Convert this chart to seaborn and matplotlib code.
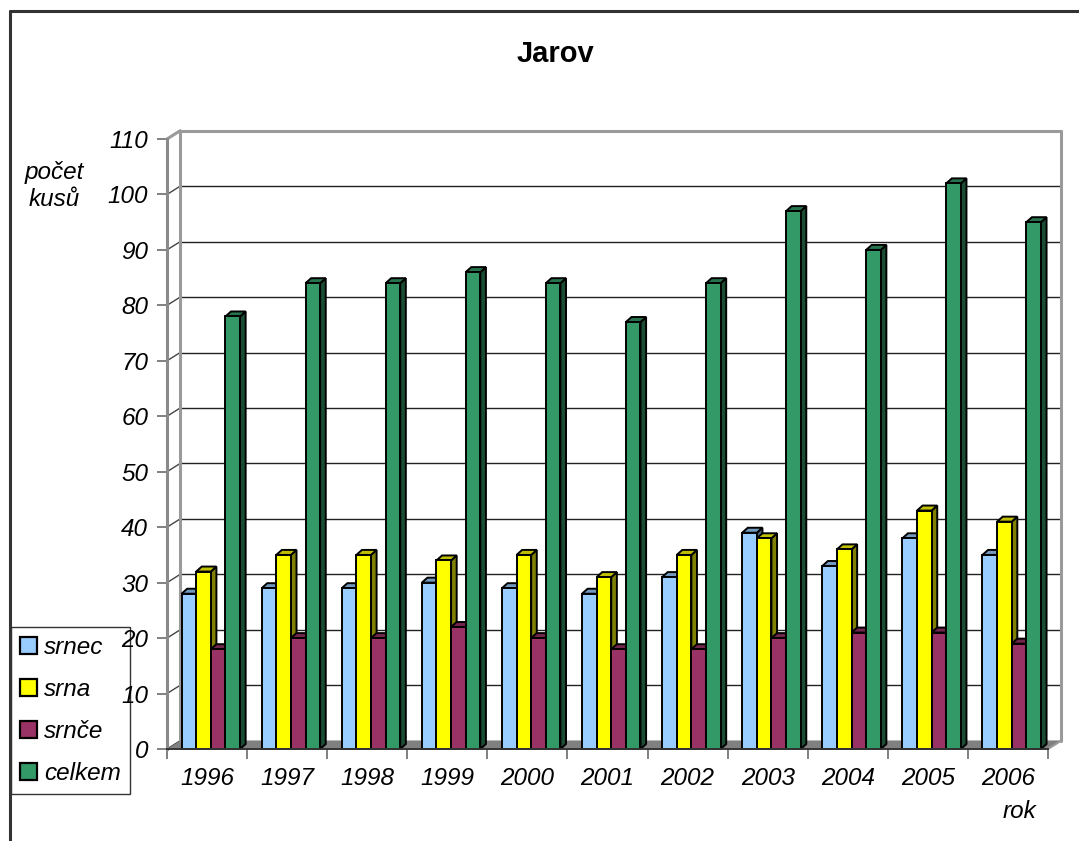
import numpy as np
import pandas as pd
import matplotlib
matplotlib.use("Agg")
import matplotlib.pyplot as plt
import matplotlib.patches as mpatches
from matplotlib.lines import Line2D
from matplotlib.colors import to_rgb
import seaborn as sns

# --- data -------------------------------------------------------------
roky = ["1996", "1997", "1998", "1999", "2000", "2001",
        "2002", "2003", "2004", "2005", "2006"]
srnec = [28, 29, 29, 30, 29, 28, 31, 39, 33, 38, 35]
srna = [32, 35, 35, 34, 35, 31, 35, 38, 36, 43, 41]
srnce = [18, 20, 20, 22, 20, 18, 18, 20, 21, 21, 19]
celkem = [78, 84, 84, 86, 84, 77, 84, 97, 90, 102, 95]
druhy = ["srnec", "srna", "srnče", "celkem"]
barvy = ["#99CCFF", "#FFFF00", "#993366", "#339966"]
y_ticks = list(range(0, 111, 10))

sns.set_theme(style="white")
plt.rcParams["font.family"] = ["Liberation Sans", "DejaVu Sans"]

wide = pd.DataFrame({"rok": roky, "srnec": srnec, "srna": srna,
                     "srnče": srnce, "celkem": celkem})
df = wide.melt(id_vars="rok", var_name="druh", value_name="pocet")

FS = 17.5  # size of the italic labels

W, H = 1079, 841
fig = plt.figure(figsize=(W / 100, H / 100), dpi=100)
fig.patch.set_facecolor("white")
ax = fig.add_axes([167 / W, (H - 749) / H, 881 / W, 610 / H])
ax.set_facecolor("none")

sns.barplot(data=df, x="rok", y="pocet", hue="druh", hue_order=druhy,
            order=roky, palette=barvy, saturation=1, width=0.73,
            edgecolor="black", linewidth=1.4, legend=False, ax=ax)

# geometry of the pseudo-3D look (data units)
shift = 0.047           # bars sit slightly right of the category centre
x0, x1 = -0.5 - shift, len(roky) - 0.5 - shift
dx, dy = 0.165, 1.5     # depth of the back wall
bdx, bdy = 0.07, 0.9    # depth of each bar
ax.set_xlim(x0, x1)
ax.set_ylim(0, 110)

EDGE = "black"
bars = list(ax.patches)
for p in bars:
    x, w, h = p.get_x(), p.get_width(), p.get_height()
    fc = np.array(to_rgb(p.get_facecolor()))
    side = mpatches.Polygon([(x + w, 0), (x + w + bdx, bdy),
                             (x + w + bdx, h + bdy), (x + w, h)],
                            closed=True, fc=fc * 0.5, ec=EDGE, lw=1.4,
                            zorder=2, clip_on=False)
    top = mpatches.Polygon([(x, h), (x + w, h), (x + w + bdx, h + bdy),
                            (x + bdx, h + bdy)],
                           closed=True, fc=fc * 0.75, ec=EDGE, lw=1.4,
                           zorder=2.5, clip_on=False)
    ax.add_patch(side)
    ax.add_patch(top)
    p.set_zorder(3)
    p.set_clip_on(False)

# floor
floor = mpatches.Polygon([(x0, 0), (x1, 0), (x1 + dx, dy), (x0 + dx, dy)],
                         closed=True, fc="#808080", ec="none", zorder=1,
                         clip_on=False)
ax.add_patch(floor)
ax.plot([x1, x1 + dx], [0, dy], color="#9a9a9a", lw=1.5, zorder=1.2,
        clip_on=False)

# back wall with gridlines
for v in y_ticks:
    top_line = v == y_ticks[-1]
    ax.plot([x0 + dx, x1 + dx], [v + dy, v + dy],
            color="#9a9a9a" if top_line else "#222222",
            lw=2.2 if top_line else 1.0, zorder=0.5, clip_on=False)
    ax.plot([x0, x0 + dx], [v, v + dy],
            color="#9a9a9a" if top_line else "#444444",
            lw=2.2 if top_line else 1.0, zorder=0.6, clip_on=False)
ax.plot([x0 + dx, x0 + dx], [dy, 110 + dy], color="#9a9a9a", lw=2.2,
        zorder=0.6, clip_on=False)
ax.plot([x1 + dx, x1 + dx], [dy, 110 + dy], color="#9a9a9a", lw=2.2,
        zorder=0.6, clip_on=False)

# axes, ticks and labels
for s in ["top", "right"]:
    ax.spines[s].set_visible(False)
ax.spines["left"].set_color("#8a8a8a")
ax.spines["left"].set_linewidth(2.2)
ax.spines["bottom"].set_color("#333333")
ax.spines["bottom"].set_linewidth(1.4)
ax.spines["left"].set_zorder(4)
ax.spines["bottom"].set_zorder(4)

ax.set_yticks(y_ticks)
ax.set_yticklabels([str(v) for v in y_ticks])
ax.set_xticks([k - 0.5 - shift for k in range(len(roky) + 1)])
ax.set_xticklabels([])
ax.set_xticks([k - shift for k in range(len(roky))], minor=True)
ax.set_xticklabels(roky, minor=True)
ax.tick_params(axis="y", which="major", direction="out", length=7.5,
               width=1.4, color="#808080", labelsize=FS, pad=6.0,
               left=True)
ax.tick_params(axis="x", which="major", direction="out", length=7.5,
               width=1.4, color="#808080", bottom=True)
ax.tick_params(axis="x", which="minor", length=0, labelsize=FS, pad=13)
for lab in ax.get_yticklabels() + ax.get_xticklabels(minor=True):
    lab.set_fontstyle("italic")
    lab.set_color("black")
ax.set_xlabel("")
ax.set_ylabel("")
ax.grid(False)

# texts
fig.text(555 / W, 1 - 54 / H, "Jarov", ha="center", va="center",
         fontsize=21, fontweight="bold", color="black")
fig.text(54 / W, 1 - 186 / H, "počet\nkusů", ha="center", va="center",
         fontsize=FS, fontstyle="italic", linespacing=1.2, color="black")
fig.text(1019 / W, 1 - 811 / H, "rok", ha="center", va="center",
         fontsize=FS, fontstyle="italic", color="black")

# legend, kept underneath the axis labels
handles = [mpatches.Patch(facecolor=c, edgecolor="black", linewidth=1.6,
                          label=d) for c, d in zip(barvy, druhy)]
leg = fig.legend(handles=handles, loc="upper left",
                 bbox_to_anchor=(11 / W, 1 - 627 / H),
                 bbox_transform=fig.transFigure, borderaxespad=0,
                 prop={"style": "italic", "size": FS}, labelcolor="black",
                 frameon=True, fancybox=False, framealpha=1,
                 handlelength=0.68, handleheight=0.68, handletextpad=0.3,
                 labelspacing=0.78, borderpad=0.38)
leg.get_frame().set_edgecolor("#333333")
leg.get_frame().set_linewidth(1.0)
leg.set_zorder(-1)

# outer frame (left and top edges)
frame_kw = dict(color="#333333", lw=2.2, transform=fig.transFigure)
fig.add_artist(Line2D([10 / W, 10 / W], [0, 1 - 11 / H], **frame_kw))
fig.add_artist(Line2D([10 / W, 1.0], [1 - 11 / H, 1 - 11 / H], **frame_kw))

fig.savefig("out.png", dpi=100, facecolor="white")
